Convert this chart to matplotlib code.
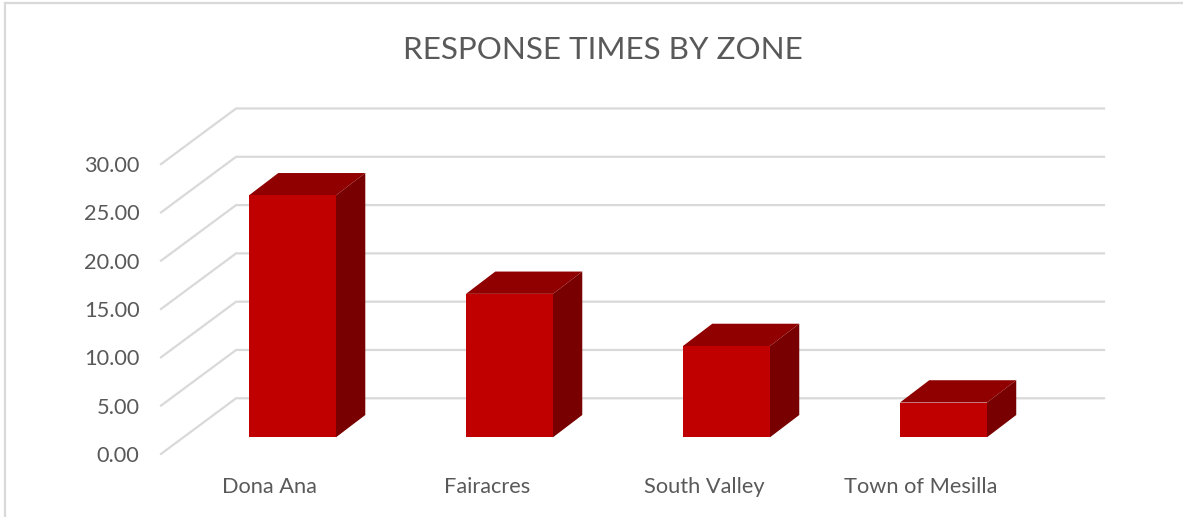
import matplotlib
matplotlib.use("Agg")
import matplotlib.pyplot as plt
from matplotlib.patches import Polygon

zones = ["Dona Ana", "Fairacres", "South Valley", "Town of Mesilla"]
response_times = [25.05, 14.85, 9.45, 3.6]
tick_values = [0, 5, 10, 15, 20, 25, 30]

GRID = "#D9D9D9"
TEXT = "#595959"
FRONT = "#C00000"
TOP = "#900000"
SIDE = "#780000"

# oblique 3d look, everything in data units (1 zone across, 1 response unit up)
PX_X = 217.0
PX_Y = 9.66
BAR_W = 87 / PX_X
BAR_DX = 29.3 / PX_X
BAR_DY = 22.3 / PX_Y
WALL_LEFT = -0.26
WALL_RIGHT = 3.74
WALL_DY = 4.04
FLOOR_X = -0.606
FLOOR_Y = -1.72

plt.rcParams["font.family"] = ["Lato", "DejaVu Sans"]

fig = plt.figure(figsize=(11.83, 5.17), dpi=100)
ax = fig.add_axes([0, 0, 1, 1])
ax.set_xlim(-1.348, 4.104)
ax.set_ylim(-8.25, 45.27)
ax.axis("off")

# chart frame, only top and left show up in the crop
frame = dict(color=GRID, lw=1.6, transform=ax.transAxes, clip_on=False)
ax.plot([5 / 1183, 1], [1 - 3 / 517, 1 - 3 / 517], **frame)
ax.plot([5 / 1183, 5 / 1183], [0, 1 - 3 / 517], **frame)

# gridlines on back wall and side wall
for v in tick_values:
    ax.plot([FLOOR_X, WALL_LEFT, WALL_RIGHT],
            [FLOOR_Y + v, WALL_DY + v, WALL_DY + v],
            color=GRID, lw=1.6, solid_joinstyle="miter", zorder=1)
    ax.text(-0.705, FLOOR_Y + v - 0.2, f"{v:.2f}", ha="right", va="center",
            fontsize=15.7, color=TEXT)

for i, (name, val) in enumerate(zip(zones, response_times)):
    x0 = i - BAR_W / 2
    x1 = i + BAR_W / 2
    ax.add_patch(Polygon([(x0, val), (x1, val), (x1 + BAR_DX, val + BAR_DY), (x0 + BAR_DX, val + BAR_DY)],
                         facecolor=TOP, edgecolor="none", zorder=3))
    ax.add_patch(Polygon([(x1, 0), (x1 + BAR_DX, BAR_DY), (x1 + BAR_DX, val + BAR_DY), (x1, val)],
                         facecolor=SIDE, edgecolor="none", zorder=3))
    ax.add_patch(Polygon([(x0, 0), (x1, 0), (x1, val), (x0, val)],
                         facecolor=FRONT, edgecolor="none", zorder=4))
    ax.text(i - 0.104, -5.17, name, ha="center", va="center", fontsize=15.7, color=TEXT)

ax.text(0.5095, 0.903, "RESPONSE TIMES BY ZONE", transform=ax.transAxes,
        ha="center", va="center", fontsize=22.6, color=TEXT)

fig.savefig("out.png", dpi=100)
